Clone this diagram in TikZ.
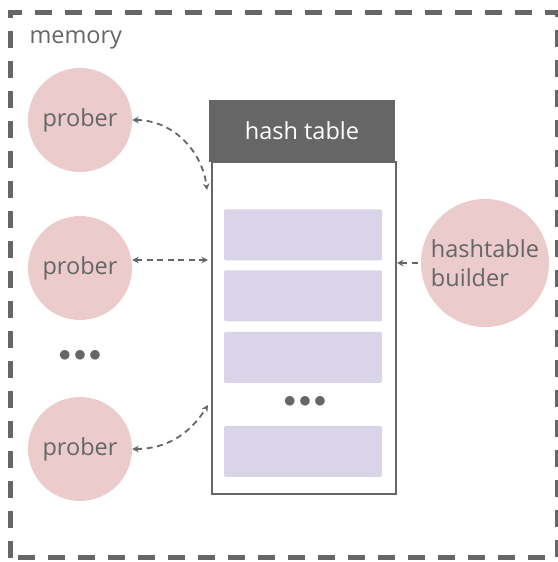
\documentclass[tikz,border=0pt]{standalone}
\usepackage{fontspec}
\setmainfont{Open Sans}
\usetikzlibrary{arrows.meta}
\definecolor{inkgray}{HTML}{666666}
\definecolor{circpink}{HTML}{EBCBCB}
\definecolor{rowlav}{HTML}{D9D4E7}
\tikzset{
  worker/.style = {circle, fill=circpink, minimum size=104pt, inner sep=0, text=inkgray, font=\fontsize{23.5}{27}\selectfont},
  slot/.style = {fill=rowlav, rounded corners=1.5pt, minimum width=158pt, minimum height=51pt, inner sep=0},
  link/.style = {inkgray, line width=1.8pt, dash pattern=on 6pt off 4.5pt, {Stealth[length=6.5pt,width=6.5pt]}-{Stealth[length=6.5pt,width=6.5pt]}},
  dots/.style = {text=inkgray, font=\fontsize{26}{26}\selectfont}
}
\begin{document}
\begin{tikzpicture}[x=1pt,y=1pt]
  \useasboundingbox (0,0) rectangle (557,562);
  \draw [inkgray, line width=5pt, dash pattern=on 17pt off 13pt] (10,4) rectangle (557.5,549);
  \node [anchor=west, text=inkgray, font=\fontsize{23.5}{27}\selectfont] (mem) at (26,522) {memory};
  \node [worker] (p1) at (80,442) {prober};
  \node [worker] (p2) at (80,294) {prober};
  \node [dots] (pdots) at (80,206) {$\bullet\mkern-2mu\bullet\mkern-2mu\bullet$};
  \node [worker] (p3) at (80,113) {prober};
  \node [worker, minimum size=128pt, align=left, font=\fontsize{23.5}{29}\selectfont] (bld) at (485,299) {hashtable\\builder};
  \node [draw=inkgray, line width=1.5pt, minimum width=184pt, minimum height=332pt, inner sep=0] (body) at (304,234) {};
  \node [fill=inkgray, minimum width=185.5pt, minimum height=62pt, inner sep=0, text=white, font=\fontsize{23.5}{27}\selectfont] (head) at (302,431) {hash table};
  \node [slot] (r1) at (303,327) {};
  \node [slot] (r2) at (303,266) {};
  \node [slot] (r3) at (303,204.5) {};
  \node [dots] (rdots) at (305,160) {$\bullet\mkern-2mu\bullet\mkern-2mu\bullet$};
  \node [slot] (r4) at (303,110.5) {};
  \coordinate (e1) at (207,372);
  \coordinate (e2) at (208,302);
  \coordinate (e3) at (208,157);
  \coordinate (e4) at (397,299);
  \draw [link] (p1.east) to[out=0, in=97] (e1);
  \draw [link] (p2.east |- e2) -- (e2);
  \draw [link] (p3.east) to[out=0, in=238] (e3);
  \draw [link, {Stealth[length=6.5pt,width=6.5pt]}-] (e4) -- (bld.west |- e4);
\end{tikzpicture}
\end{document}
